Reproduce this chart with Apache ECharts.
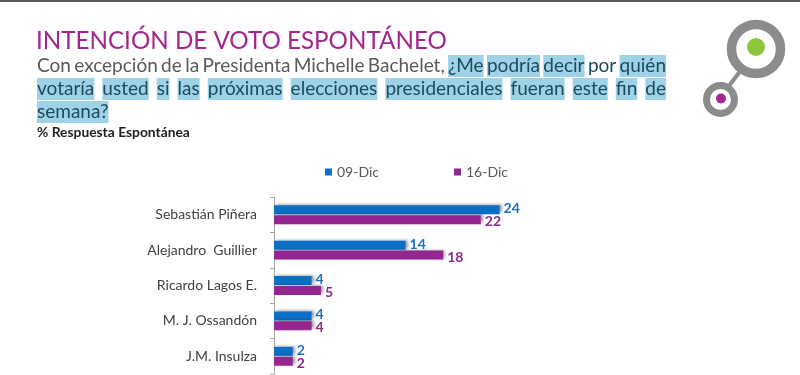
<!DOCTYPE html>
<html>
<head>
<meta charset="utf-8">
<script src="https://cdn.jsdelivr.net/npm/echarts@6/dist/echarts.min.js"></script>
<style>
  html, body { margin: 0; padding: 0; background: #fff; }
  #chart { width: 800px; height: 375px; }
</style>
</head>
<body>
<div id="chart"></div>
<script>
const candidates = ['Sebastián Piñera', 'Alejandro  Guillier', 'Ricardo Lagos E.', 'M. J. Ossandón', 'J.M. Insulza']
const dic09 = [24, 14, 4, 4, 2]
const dic16 = [22, 18, 5, 4, 2]
const seriesNames = ['09-Dic', '16-Dic']

const titleText = 'INTENCIÓN DE VOTO ESPONTÁNEO'
const questionLines = [
  'Con excepción de la Presidenta Michelle Bachelet, ¿Me podría decir por quién',
  'votaría usted si las próximas elecciones presidenciales fueran este fin de',
  'semana?'
]
// words with the blue highlight behind them
const highlighted = ['¿Me', 'podría', 'decir', 'quién', 'votaría', 'usted', 'si', 'las', 'próximas',
  'elecciones', 'presidenciales', 'fueran', 'este', 'fin', 'de', 'semana?']
const subTitle = '% Respuesta Espontánea'

const FONT = 'Lato, "Open Sans", sans-serif'
const BLUE = '#0b6fc6'
const PURPLE = '#93278f'

const ctx = document.createElement('canvas').getContext('2d')
function textWidth(text, size, weight) {
  ctx.font = (weight || 'normal') + ' ' + size + 'px ' + FONT
  return ctx.measureText(text).width
}
function fitSize(text, width, weight) {
  return 100 * width / textWidth(text, 100, weight)
}

// lay words out justified between x0 and x1, like the slide text
function questionLine(line, lineIdx, y, x0, x1, size) {
  const words = line.split(' ')
  const widths = words.map(w => textWidth(w, size))
  const total = widths.reduce((a, b) => a + b, 0)
  const justify = lineIdx < questionLines.length - 1
  const gap = justify && words.length > 1 ? (x1 - x0 - total) / (words.length - 1) : textWidth(' ', size)
  let x = x0
  let dark = lineIdx > 0
  return words.map((w, i) => {
    if (w === '¿Me') dark = true
    const hl = dark && highlighted.indexOf(w) >= 0
    const el = {
      type: 'text',
      x: x,
      y: y,
      style: {
        text: w,
        font: size + 'px ' + FONT,
        fill: dark ? '#1d4a5e' : '#595959',
        textVerticalAlign: 'middle',
        backgroundColor: hl ? '#9ed2e7' : 'transparent',
        padding: [1, 0, 2, 0]
      }
    }
    x += widths[i] + gap
    return el
  })
}

const chart = echarts.init(document.getElementById('chart'))

const graphics = [
  { type: 'rect', shape: { x: 0, y: 0, width: 800, height: 2 }, style: { fill: '#5a5a5a' } },
  {
    type: 'text', x: 36, y: 41,
    style: {
      text: titleText,
      font: fitSize(titleText, 411) + 'px ' + FONT,
      fill: '#a3268e',
      textVerticalAlign: 'middle'
    }
  },
  {
    type: 'text', x: 37, y: 133,
    style: {
      text: subTitle,
      font: 'bold ' + fitSize(subTitle, 153, 'bold') + 'px ' + FONT,
      fill: '#222',
      textVerticalAlign: 'middle'
    }
  },
  // logo
  { type: 'line', shape: { x1: 729, y1: 86, x2: 741, y2: 70 }, style: { stroke: '#8c8c8c', lineWidth: 4 } },
  { type: 'circle', shape: { cx: 756, cy: 49, r: 24.5 }, style: { fill: 'none', stroke: '#8c8c8c', lineWidth: 9.5 } },
  { type: 'circle', shape: { cx: 756, cy: 47, r: 9 }, style: { fill: '#8dc63f' } },
  { type: 'circle', shape: { cx: 720.5, cy: 99.5, r: 14 }, style: { fill: '#fff', stroke: '#8c8c8c', lineWidth: 7 } },
  { type: 'circle', shape: { cx: 721, cy: 98.5, r: 5 }, style: { fill: '#a3268e' } }
]
const lineY = [66, 89, 112]
questionLines.forEach((line, i) => {
  questionLine(line, i, lineY[i], 37, 666, 19).forEach(el => graphics.push(el))
})

const barShadow = {
  shadowColor: 'rgba(0,0,0,0.4)',
  shadowBlur: 3,
  shadowOffsetX: 2,
  shadowOffsetY: -1
}

chart.setOption({
  animation: false,
  textStyle: { fontFamily: FONT },
  graphic: graphics,
  legend: {
    data: seriesNames,
    left: 320,
    top: 160,
    icon: 'rect',
    itemWidth: 7,
    itemHeight: 7,
    itemGap: 75,
    textStyle: { fontSize: 14, color: '#595959' }
  },
  grid: { left: 274, right: 244, top: 197, bottom: 1 },
  xAxis: {
    type: 'value',
    min: 0,
    max: 30,
    show: false
  },
  yAxis: {
    type: 'category',
    data: candidates,
    inverse: true,
    axisLine: { lineStyle: { color: '#a6a6a6' } },
    axisTick: { show: true, length: 4, lineStyle: { color: '#a6a6a6' } },
    axisLabel: { fontSize: 14, color: '#404040', margin: 17 }
  },
  series: [
    {
      name: seriesNames[0],
      type: 'bar',
      data: dic09,
      barWidth: 9,
      barGap: '10%',
      itemStyle: Object.assign({ color: BLUE }, barShadow),
      label: { show: true, position: 'right', distance: 4, offset: [0, -1], color: '#1f6fbf', fontWeight: 'bold', fontSize: 14 }
    },
    {
      name: seriesNames[1],
      type: 'bar',
      data: dic16,
      barWidth: 9,
      barGap: '10%',
      itemStyle: Object.assign({ color: PURPLE }, barShadow),
      label: { show: true, position: 'right', distance: 4, offset: [0, 2], color: '#8e2a8c', fontWeight: 'bold', fontSize: 14 }
    }
  ]
})
</script>
</body>
</html>
